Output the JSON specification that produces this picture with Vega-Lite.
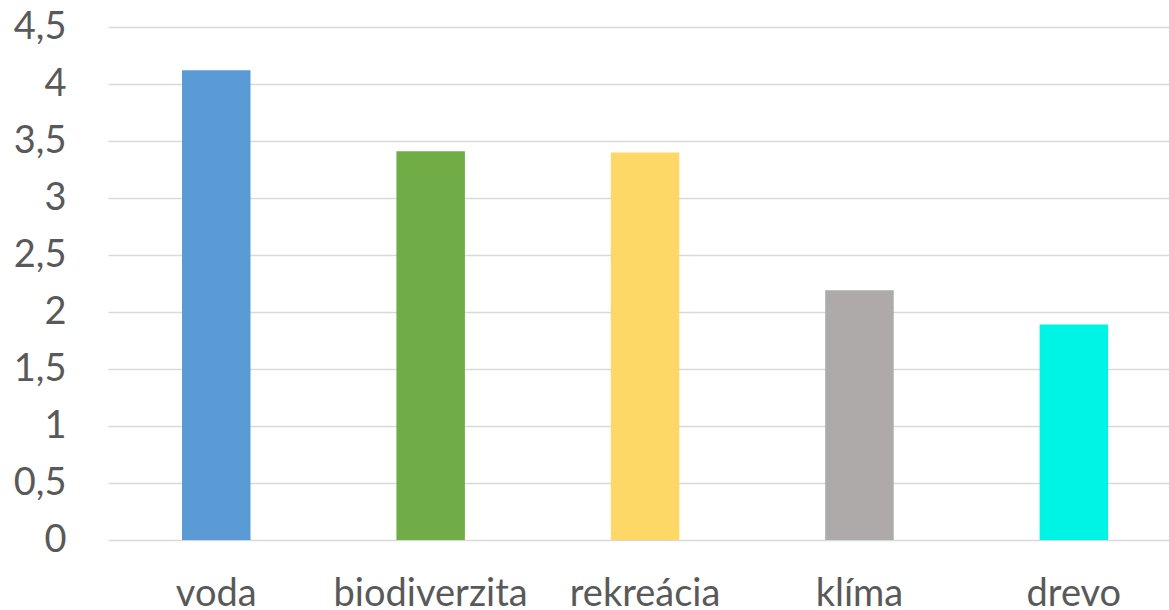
{
  "$schema": "https://vega.github.io/schema/vega-lite/v6.json",
  "autosize": {"type": "none"},
  "padding": {"left": 108, "top": 27, "right": 0, "bottom": 70},
  "width": 1061,
  "height": 513,
  "background": "#ffffff",
  "data": {
    "values": [
      {"kategoria": "voda", "hodnota": 4.12},
      {"kategoria": "biodiverzita", "hodnota": 3.41},
      {"kategoria": "rekreácia", "hodnota": 3.40},
      {"kategoria": "klíma", "hodnota": 2.19},
      {"kategoria": "drevo", "hodnota": 1.89}
    ]
  },
  "mark": {"type": "bar"},
  "encoding": {
    "x": {
      "field": "kategoria",
      "type": "nominal",
      "sort": null,
      "scale": {"paddingInner": 0.6805, "paddingOuter": 0.3146, "align": 0.5486},
      "axis": {
        "title": null,
        "labelAngle": 0,
        "ticks": false,
        "domain": false,
        "labelPadding": 35,
        "labelBaseline": "top",
        "labelLimit": 0,
        "labelOverlap": false,
        "labelFont": "Lato",
        "labelFontSize": 38,
        "labelColor": "#595959"
      }
    },
    "y": {
      "field": "hodnota",
      "type": "quantitative",
      "scale": {"domain": [0, 4.5], "nice": false, "zero": true},
      "axis": {
        "title": null,
        "values": [0, 0.5, 1, 1.5, 2, 2.5, 3, 3.5, 4, 4.5],
        "labelExpr": "replace(toString(datum.value), '.', ',')",
        "ticks": false,
        "domain": false,
        "labelPadding": 42,
        "labelFont": "Lato",
        "labelFontSize": 38,
        "labelColor": "#595959",
        "grid": true,
        "gridColor": "#d9d9d9",
        "gridWidth": 1.6
      }
    },
    "color": {
      "field": "kategoria",
      "type": "nominal",
      "scale": {
        "domain": ["voda", "biodiverzita", "rekreácia", "klíma", "drevo"],
        "range": ["#5b9bd5", "#70ad47", "#fdd866", "#aeaaaa", "#00f4e6"]
      },
      "legend": null
    }
  },
  "config": {"view": {"stroke": null}}
}
